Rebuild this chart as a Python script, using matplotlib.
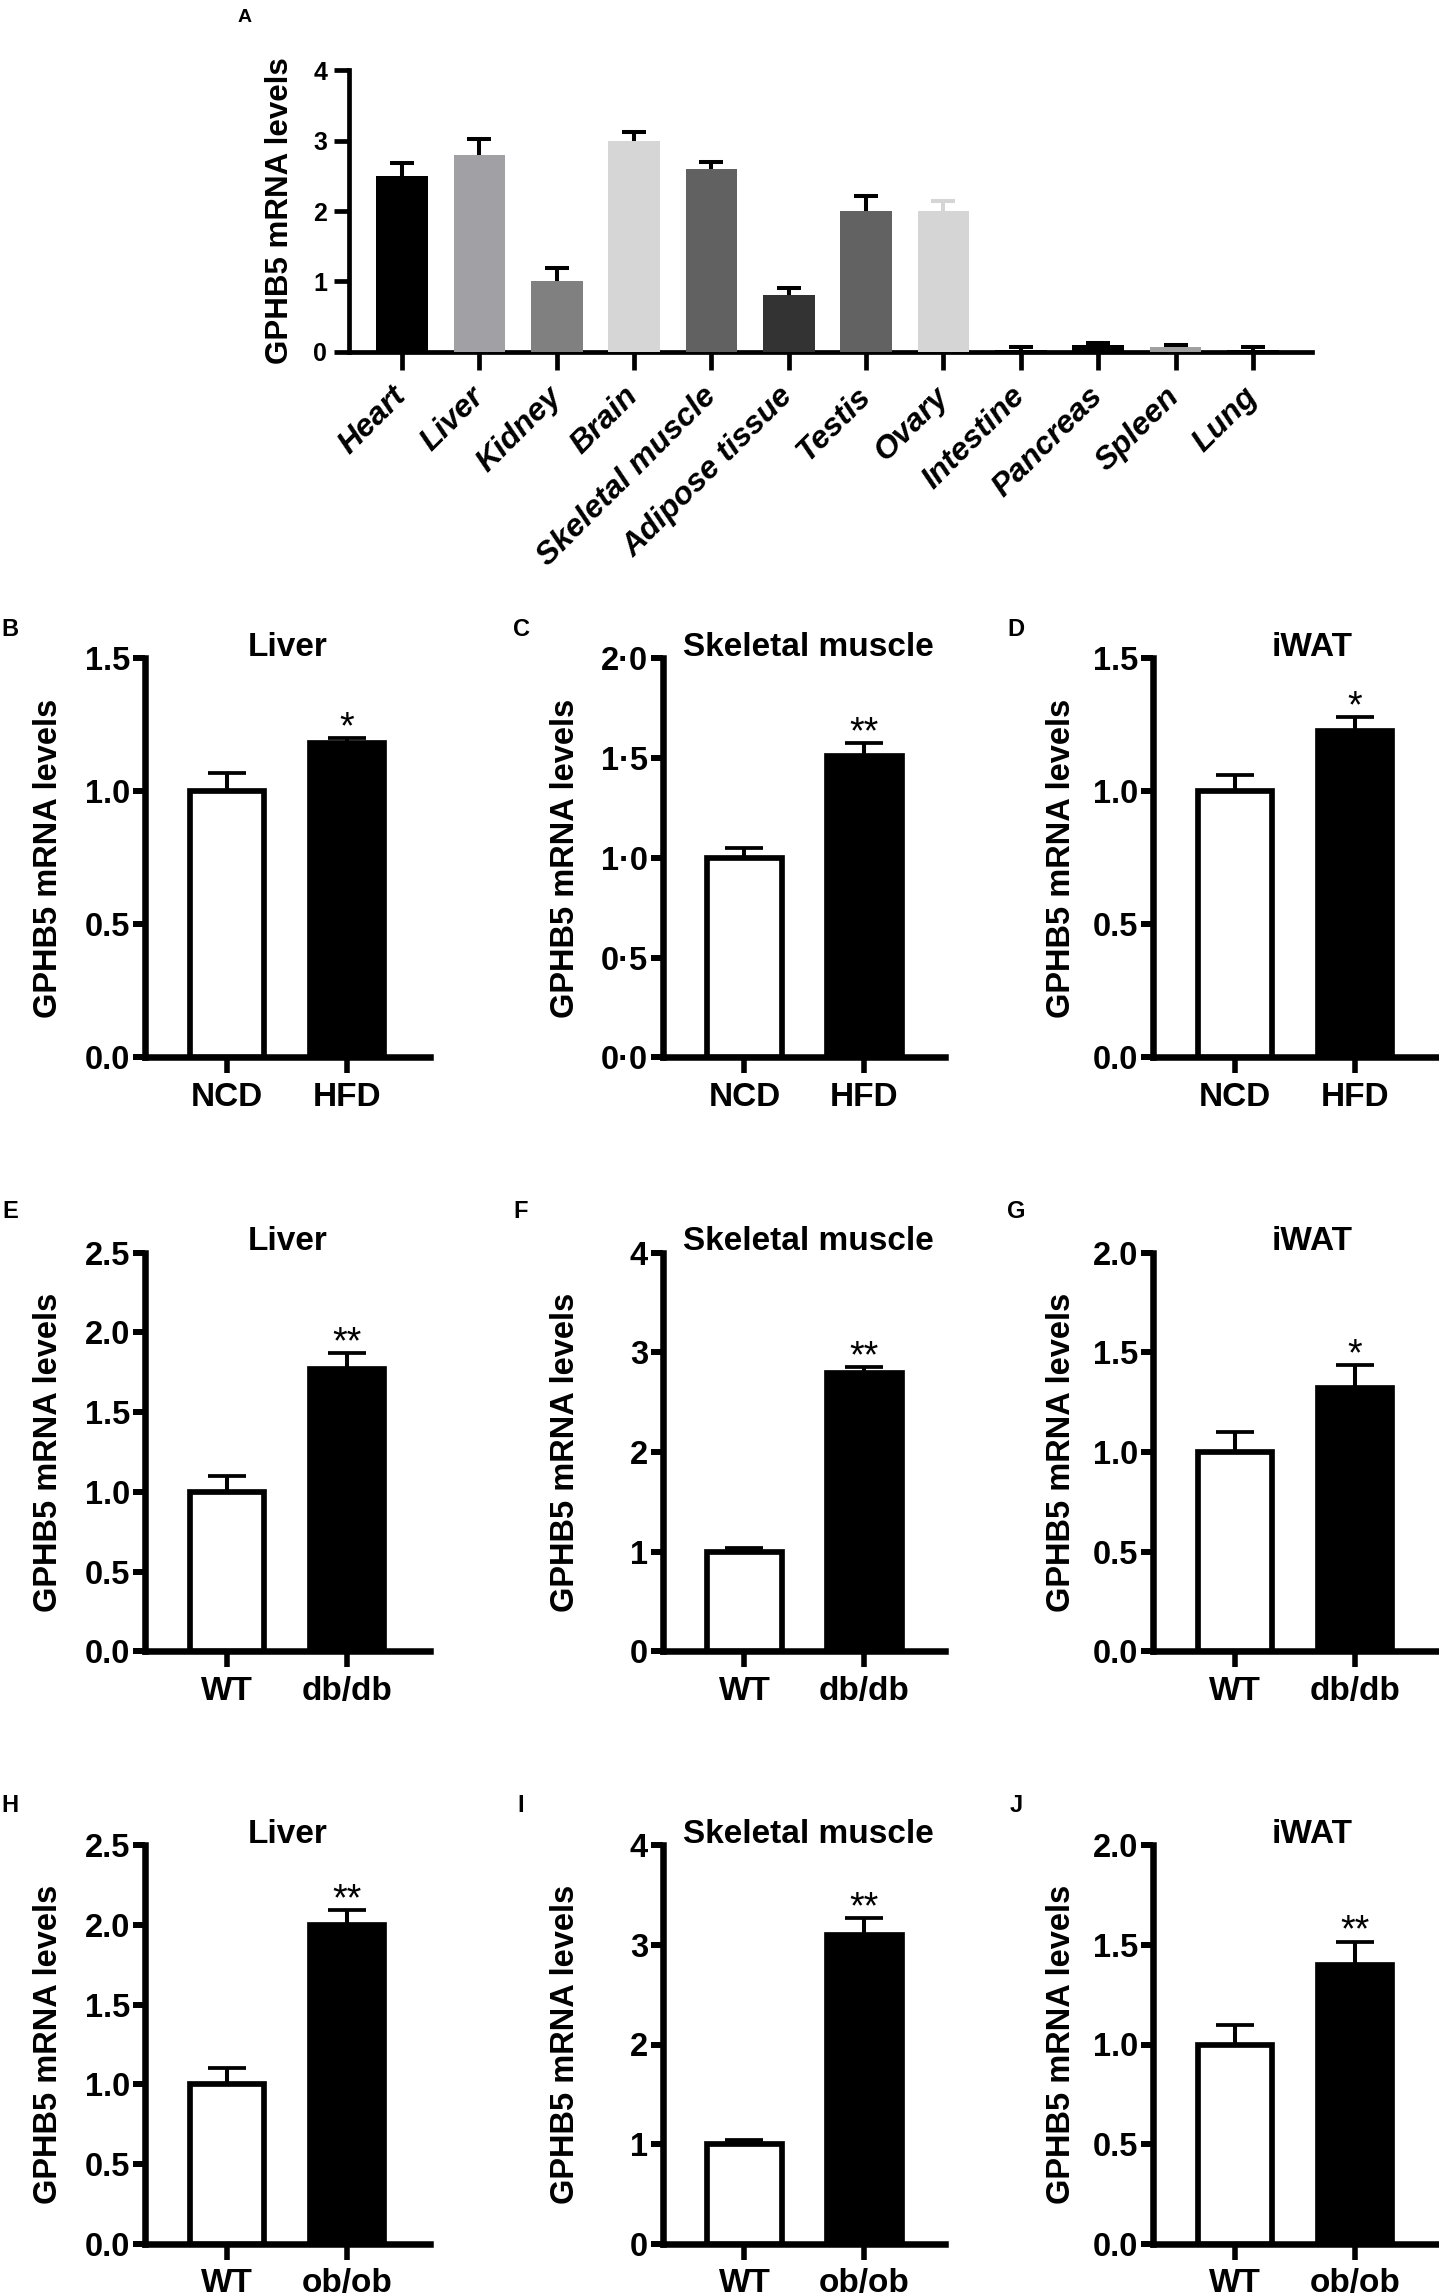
import numpy as np
import matplotlib
matplotlib.use('Agg')
import matplotlib.pyplot as plt

plt.rcParams['font.family'] = ['Liberation Sans', 'DejaVu Sans']
plt.rcParams['font.weight'] = 'bold'

# ---------------- data ----------------
tissues = ['Heart', 'Liver', 'Kidney', 'Brain', 'Skeletal muscle', 'Adipose tissue',
           'Testis', 'Ovary', 'Intestine', 'Pancreas', 'Spleen', 'Lung']
tissue_vals = [2.5, 2.8, 1.0, 3.0, 2.6, 0.8, 2.0, 2.0, 0.02, 0.09, 0.06, 0.02]
tissue_errs = [0.19, 0.23, 0.19, 0.13, 0.1, 0.1, 0.21, 0.14, 0.04, 0.03, 0.04, 0.045]
tissue_colors = ['#000000', '#a1a1a5', '#808080', '#d6d6d6', '#616161', '#333333',
                 '#626262', '#d5d5d5', '#000000', '#000000', '#a0a0a0', '#000000']
tissue_err_colors = ['#000000'] * 7 + ['#d5d5d5'] + ['#000000'] * 4

groups_hfd = ['NCD', 'HFD']
groups_db = ['WT', 'db/db']
groups_ob = ['WT', 'ob/ob']

liver_hfd = [1.0, 1.18];   liver_hfd_err = [0.07, 0.02]
muscle_hfd = [1.0, 1.51];  muscle_hfd_err = [0.05, 0.065]
iwat_hfd = [1.0, 1.225];   iwat_hfd_err = [0.06, 0.055]
liver_db = [1.0, 1.77];    liver_db_err = [0.1, 0.1]
muscle_db = [1.0, 2.79];   muscle_db_err = [0.04, 0.06]
iwat_db = [1.0, 1.32];     iwat_db_err = [0.1, 0.115]
liver_ob = [1.0, 2.0];     liver_ob_err = [0.1, 0.09]
muscle_ob = [1.0, 3.1];    muscle_ob_err = [0.04, 0.17]
iwat_ob = [1.0, 1.4];      iwat_ob_err = [0.1, 0.115]

sig_hfd = ['*', '**', '*']
sig_db = ['**', '**', '*']
sig_ob = ['**', '**', '**']

ticks_15 = [0, 0.5, 1.0, 1.5]
ticks_15_lbl = ['0.0', '0.5', '1.0', '1.5']
ticks_20_dot = [0, 0.5, 1.0, 1.5, 2.0]
ticks_20_dot_lbl = ['0\u00b70', '0\u00b75', '1\u00b70', '1\u00b75', '2\u00b70']
ticks_20 = [0, 0.5, 1.0, 1.5, 2.0]
ticks_20_lbl = ['0.0', '0.5', '1.0', '1.5', '2.0']
ticks_25 = [0, 0.5, 1.0, 1.5, 2.0, 2.5]
ticks_25_lbl = ['0.0', '0.5', '1.0', '1.5', '2.0', '2.5']
ticks_4 = [0, 1, 2, 3, 4]
ticks_4_lbl = ['0', '1', '2', '3', '4']

# ---------------- figure ----------------
W, H = 1439, 2295
fig = plt.figure(figsize=(W / 100, H / 100), dpi=100)


def px_axes(x0, y0, x1, y1):
    return fig.add_axes([x0 / W, 1 - y1 / H, (x1 - x0) / W, (y1 - y0) / H])


def one_sided_err(ax, x, vals, errs, colors, capsize, elw, cth):
    for xi, v, e, c in zip(x, vals, errs, colors):
        res = ax.errorbar([xi], [v], yerr=[[0], [e]], fmt='none', ecolor=c,
                          elinewidth=elw, capsize=capsize, capthick=cth, zorder=2)
        res[1][0].set_visible(False)


# ---------------- panel A ----------------
axA = px_axes(349, 70.4, 1311.7, 351.7)
xA = np.arange(len(tissues))
axA.bar(xA, tissue_vals, width=0.668, color=tissue_colors, zorder=3)
one_sided_err(axA, xA, tissue_vals, tissue_errs, tissue_err_colors, 8.5, 2.9, 2.9)
axA.set_xlim(-0.685, 11.76)
axA.set_ylim(0, 4)
axA.set_yticks(ticks_4)
axA.set_yticklabels(ticks_4_lbl)
axA.set_xticks(xA)
axA.set_xticklabels(tissues, rotation=45, ha='right', va='center',
                    rotation_mode='anchor', fontstyle='italic', fontweight='bold')
for s in ['top', 'right']:
    axA.spines[s].set_visible(False)
for s in ['left', 'bottom']:
    axA.spines[s].set_linewidth(3.4)
axA.tick_params(axis='y', length=10.8, width=3.4, labelsize=18, pad=5)
axA.tick_params(axis='x', length=13, width=3.4, labelsize=23, pad=16)
axA.text(-69 / 962.7, 0.5, 'GPHB5 mRNA levels', rotation=90, transform=axA.transAxes,
         ha='center', va='center', fontsize=22.5)
fig.text(245 / W, 1 - 17 / H, 'A', ha='center', va='center', fontsize=14)

# ---------------- small panels ----------------
col_x = [145, 662.5, 1153]
col_w = [285, 282.5, 285]
row_y = [(658.3, 1057.5), (1252.7, 1651.4), (1845, 2244)]
title_x = [0.5, 0.515, 0.558]
ylabel_off = [-96, -97, -92]
titles = ['Liver', 'Skeletal muscle', 'iWAT']
letter_x = [10, 521, 1016]
letter_y = [629, 1211, 1805]

rows = [
    (groups_hfd, [liver_hfd, muscle_hfd, iwat_hfd], [liver_hfd_err, muscle_hfd_err, iwat_hfd_err],
     sig_hfd, [(1.5, ticks_15, ticks_15_lbl), (2.0, ticks_20_dot, ticks_20_dot_lbl),
               (1.5, ticks_15, ticks_15_lbl)], ['B', 'C', 'D']),
    (groups_db, [liver_db, muscle_db, iwat_db], [liver_db_err, muscle_db_err, iwat_db_err],
     sig_db, [(2.5, ticks_25, ticks_25_lbl), (4, ticks_4, ticks_4_lbl),
              (2.0, ticks_20, ticks_20_lbl)], ['E', 'F', 'G']),
    (groups_ob, [liver_ob, muscle_ob, iwat_ob], [liver_ob_err, muscle_ob_err, iwat_ob_err],
     sig_ob, [(2.5, ticks_25, ticks_25_lbl), (4, ticks_4, ticks_4_lbl),
              (2.0, ticks_20, ticks_20_lbl)], ['H', 'I', 'J']),
]

for r, (groups, vals_list, errs_list, sigs, yspec, letters) in enumerate(rows):
    y0, y1 = row_y[r]
    for c in range(3):
        ax = px_axes(col_x[c], y0, col_x[c] + col_w[c], y1)
        vals = vals_list[c]
        errs = errs_list[c]
        x = np.arange(2)
        ax.bar(x, vals, width=0.62, color=['white', 'black'], edgecolor='black',
               linewidth=4.1, zorder=3)
        one_sided_err(ax, x, vals, errs, ['black', 'black'], 14, 2.9, 2.7)
        ymax, yt, ytl = yspec[c]
        ax.set_ylim(0, ymax)
        ax.set_yticks(yt)
        ax.set_yticklabels(ytl)
        ax.set_xlim(-0.683, -0.683 + col_w[c] / 120.0)
        ax.set_xticks(x)
        ax.set_xticklabels(groups)
        for s in ['top', 'right']:
            ax.spines[s].set_visible(False)
        for s in ['left', 'bottom']:
            ax.spines[s].set_linewidth(4.7)
        ax.tick_params(axis='y', length=8.9, width=4.3, labelsize=23.5, pad=1.5)
        ax.tick_params(axis='x', length=11.5, width=4.0, labelsize=24, pad=6)
        ax.text(title_x[c], 1.006, titles[c], transform=ax.transAxes, ha='center',
                va='baseline', fontsize=24)
        ax.text(ylabel_off[c] / col_w[c], 0.5, 'GPHB5 mRNA levels', rotation=90,
                transform=ax.transAxes, ha='center', va='center', fontsize=23.5)
        ax.text(1, vals[1] + errs[1], sigs[c], ha='center', va='baseline',
                fontsize=27, fontweight='normal', zorder=5)
        fig.text(letter_x[c] / W, 1 - letter_y[r] / H, letters[c], ha='center',
                 va='center', fontsize=17)

fig.savefig('out.png', dpi=100)
